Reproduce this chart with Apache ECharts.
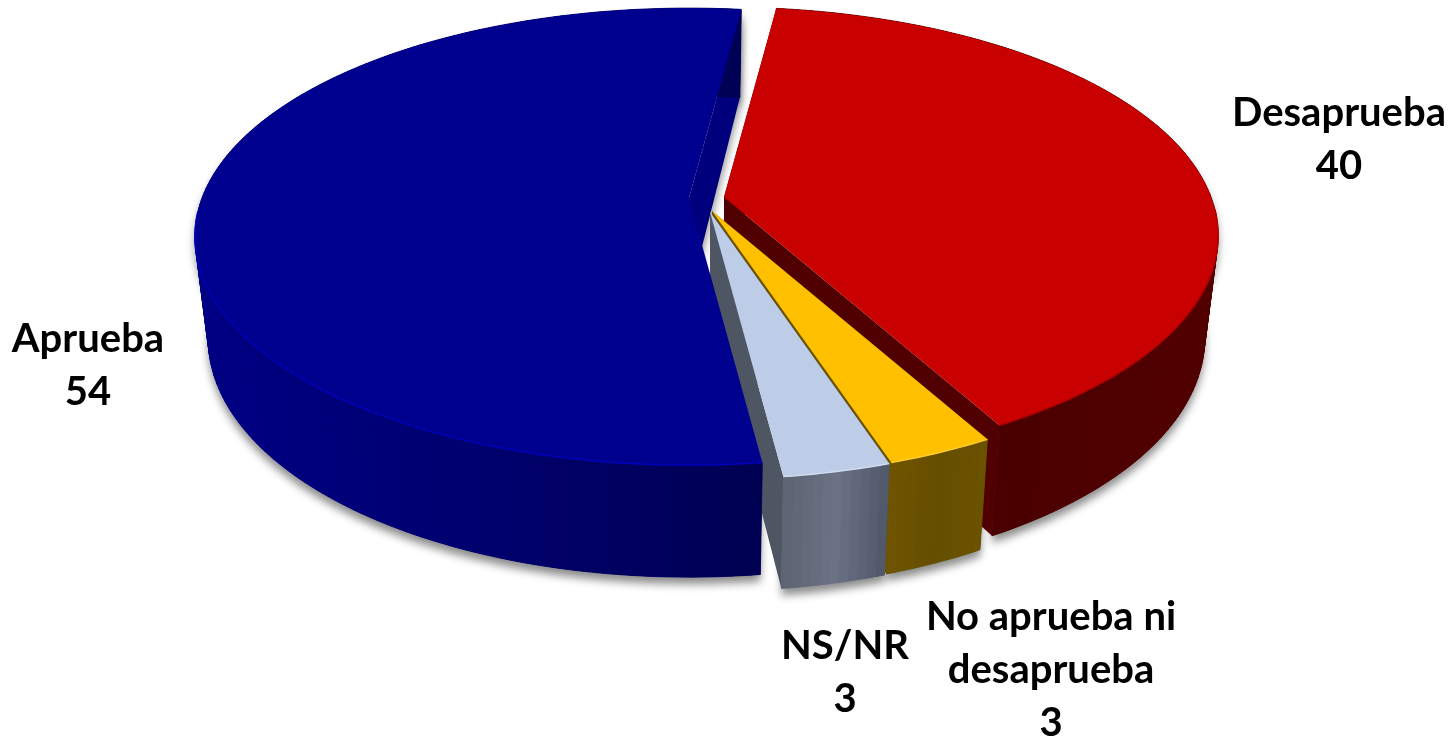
<!DOCTYPE html>
<html>
<head>
<meta charset="utf-8">
<script src="https://cdn.jsdelivr.net/npm/echarts@6/dist/echarts.min.js"></script>
<style>html,body{margin:0;padding:0;background:#fff}#c{width:1456px;height:737px}</style>
</head>
<body>
<div id="c"></div>
<script>
// Data
const categories = ['Desaprueba', 'No aprueba ni\ndesaprueba', 'NS/NR', 'Aprueba'];
const values = [40, 3, 3, 54];

// Pie appearance
const START_DEG = 7.2;
const RX = 487, RY = 222, K = 0.169;      // disc radii and perspective
const H0 = 100, H1 = 12, BASE_SHRINK = 0.027;
const looks = [
  { apex: [724, 197], top: '#c80000', rim: '#b00000', side: ['#520000', '#4a0000', '#520000'], cut: '#500000', label: [1339, 140], z: 2 },
  { apex: [712, 211], top: '#ffc000', rim: '#ffcc30', side: ['#6f5500', '#654e00', '#6b5200'], cut: '#6b5200', label: [1051, 670], z: 4 },
  { apex: [710, 212], top: '#bdcde8', rim: '#d0dcf0', side: ['#5c6474', '#6a7284', '#4f5767'], cut: '#4e5663', label: [845, 673], z: 6 },
  { apex: [689, 198], top: '#00008f', rim: '#0000b8', side: ['#000084', '#00006e', '#000052'], cut: '#00007c', label: [88, 366], z: 8 }
];
const FONT = 'bold 40px Lato, "Open Sans", sans-serif';
const SHADOW = { shadowColor: 'rgba(0,0,0,0.45)', shadowBlur: 9, shadowOffsetY: 7 };

const total = values.reduce((a, b) => a + b, 0);
function angles(i) {
  let sum = 0;
  for (let k = 0; k < i; k++) sum += values[k];
  const a0 = START_DEG + sum / total * 360;
  return [a0, a0 + values[i] / total * 360];
}
function pt(apex, deg, r, z) {
  const t = deg * Math.PI / 180, s = Math.sin(t) * r, c = Math.cos(t) * r;
  const w = 1 / (1 + K * c);
  const h = z ? H0 - H1 * c : 0;
  return [apex[0] + RX * s * w * (1 - z * BASE_SHRINK), apex[1] - RY * c * w + h];
}
function arc(apex, a0, a1, z) {
  const out = [], n = Math.max(2, Math.ceil(a1 - a0));
  for (let j = 0; j <= n; j++) out.push(pt(apex, a0 + (a1 - a0) * j / n, 1, z));
  return out;
}
function hex(c) { return [1, 3, 5].map(p => parseInt(c.substr(p, 2), 16)); }
function band(stops, t) {
  const u = Math.max(0, Math.min(1, t)) * 2, k = Math.min(1, Math.floor(u)), f = u - k;
  const a = hex(stops[k]), b = hex(stops[k + 1]);
  return 'rgb(' + a.map((v, n) => Math.round(v + (b[n] - v) * f)).join(',') + ')';
}
function renderSlice(params) {
  const i = params.dataIndex, L = looks[i], A = L.apex;
  const [a0, a1] = angles(i);
  const top = arc(A, a0, a1, 0), base = arc(A, a0, a1, 1);
  const c0 = pt(A, a0, 0, 0), c1 = pt(A, a0, 0, 1);
  const kids = [];
  const poly = (points, fill, z2, extra) => ({
    type: 'polygon', z2, shape: { points },
    style: Object.assign({ fill, stroke: null }, extra || {})
  });
  const startWall = [c0, pt(A, a0, 1, 0), pt(A, a0, 1, 1), c1];
  const endWall = [c0, pt(A, a1, 1, 0), pt(A, a1, 1, 1), c1];
  const isLast = i === values.length - 1;
  if (isLast) {
    // the back cut of the large slice is seen behind the other slices
    kids.push(poly(endWall, L.cut, 1, SHADOW));
  } else {
    kids.push(poly(endWall, L.cut, L.z));
    kids.push(poly(startWall, L.cut, L.z));
  }
  // shadow below every slice, never falling on a neighbour
  kids.push(poly(top.concat(base.slice().reverse()), L.side[1], 0, SHADOW));
  // outer wall as narrow bands
  const xs = base.map(p => p[0]);
  const minX = Math.min.apply(null, xs), maxX = Math.max.apply(null, xs);
  for (let j = 0; j < top.length - 1; j++) {
    const color = band(L.side, ((base[j][0] + base[j + 1][0]) / 2 - minX) / (maxX - minX));
    kids.push(poly([top[j], top[j + 1], base[j + 1], base[j]], color, L.z,
      { stroke: color, lineWidth: 0.8 }));
  }
  // top face
  kids.push(poly([c0].concat(top), L.top, L.z + 1));
  // front rim highlight
  const rim = [];
  for (let j = 0; j < top.length; j++) {
    const d = a0 + (a1 - a0) * j / (top.length - 1);
    if (Math.cos(d * Math.PI / 180) < -0.05) rim.push(top[j]);
  }
  if (rim.length > 1) kids.push({
    type: 'polyline', z2: L.z + 1, shape: { points: rim },
    style: { stroke: L.rim, lineWidth: 1.5, fill: null }
  });
  kids.push({
    type: 'text', z2: 20, x: L.label[0], y: L.label[1],
    style: {
      text: categories[i] + '\n' + values[i], font: FONT, fill: '#000',
      align: 'center', verticalAlign: 'middle', lineHeight: 53
    }
  });
  return { type: 'group', children: kids };
}

const chart = echarts.init(document.getElementById('c'), null, { renderer: 'canvas' });
chart.setOption({
  animation: false,
  backgroundColor: '#ffffff',
  series: [{
    type: 'custom',
    coordinateSystem: 'none',
    silent: true,
    renderItem: renderSlice,
    data: values.map((v, i) => ({ name: categories[i], value: v }))
  }]
});
</script>
</body>
</html>
